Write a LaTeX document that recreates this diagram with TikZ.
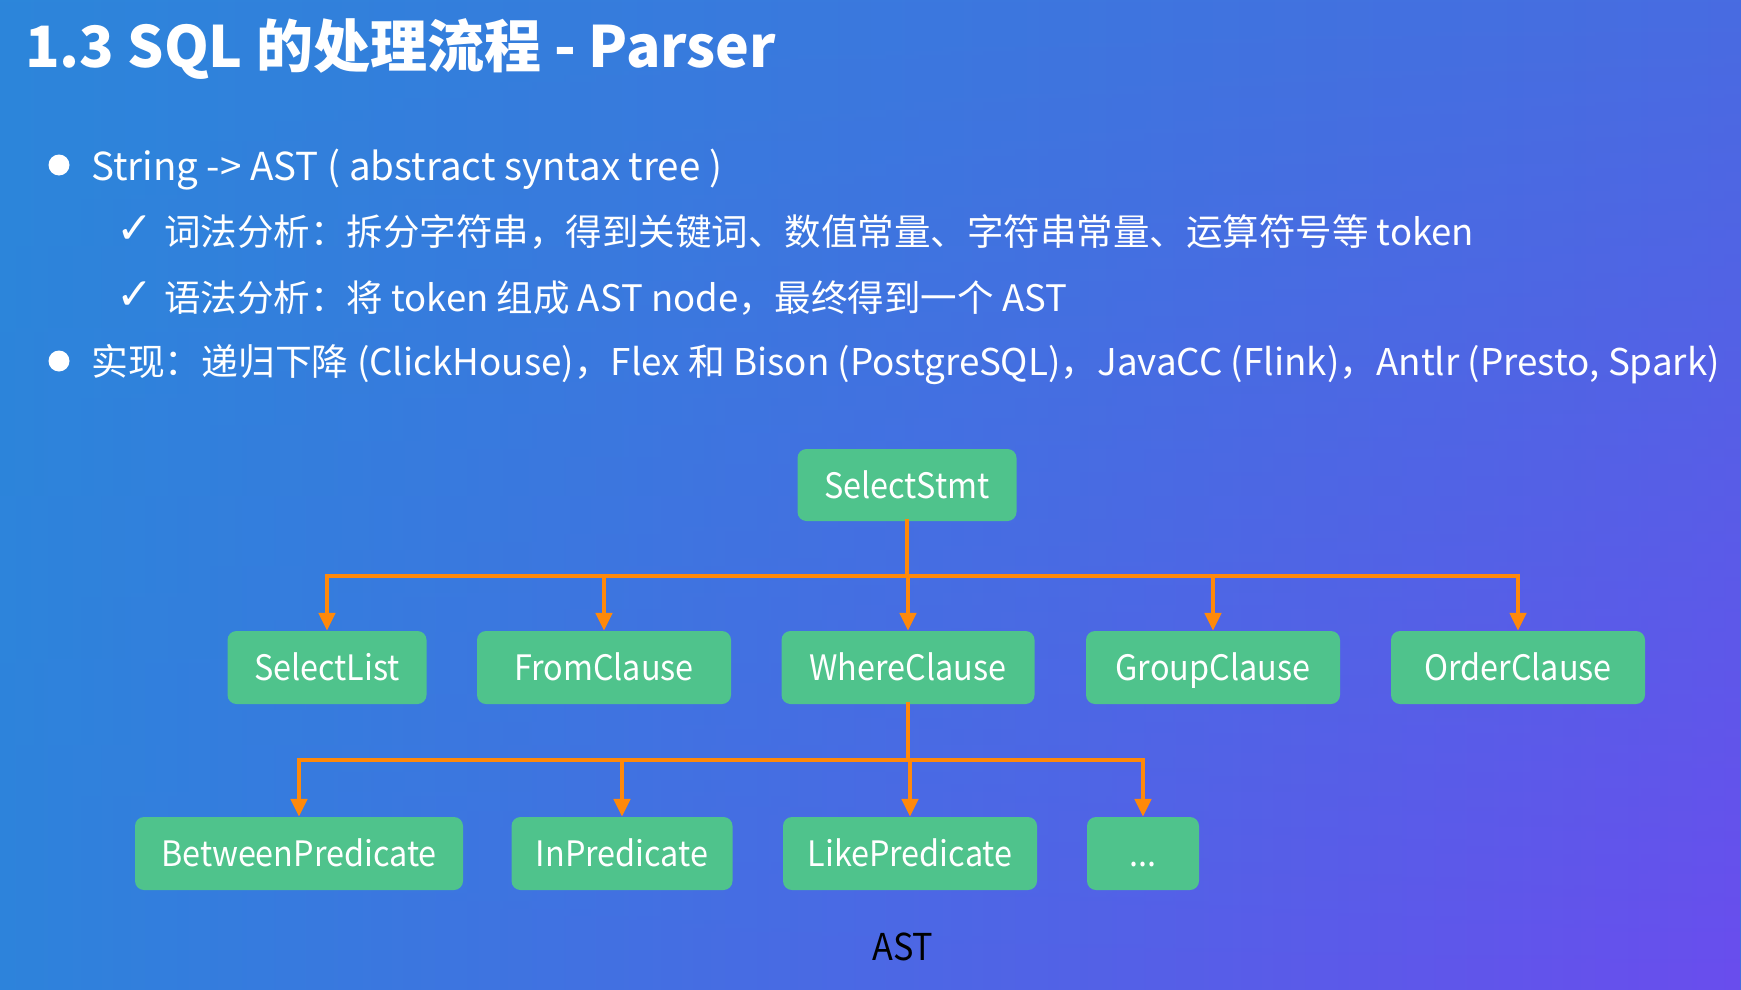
\documentclass[tikz,border=0pt]{standalone}
\usepackage{fontspec}
\setmainfont{Noto Sans CJK SC}
\newfontfamily\narrowfont[FakeStretch=0.925]{Noto Sans CJK SC}
\newfontfamily\symfont{DejaVu Sans}
\usetikzlibrary{arrows.meta,fadings}
\definecolor{bgTL}{RGB}{44,134,218}
\definecolor{bgTR}{RGB}{72,108,225}
\definecolor{bgBL}{RGB}{46,131,220}
\definecolor{bgBR}{RGB}{106,77,238}
\definecolor{nodegreen}{RGB}{79,195,140}
\definecolor{linkorange}{RGB}{255,137,10}
\tikzset{
  bodytext/.style={anchor=base west, inner sep=0pt, text=white, font=\fontsize{36.5}{40}\selectfont},
  checktext/.style={anchor=base west, inner sep=0pt, text=white, font=\symfont\fontsize{44}{48}\selectfont},
  treenode/.style={rounded corners=9pt, fill=nodegreen, text=white, inner sep=0pt,
    minimum height=73pt, text height=28pt, text depth=2pt, font=\narrowfont\fontsize{35}{40}\selectfont},
  bus/.style={draw=linkorange, line width=4.5pt, line cap=rect},
  arrowlink/.style={draw=linkorange, line width=4.5pt, -{Triangle[width=16pt,length=18pt]}},
}
\begin{document}
\begin{tikzpicture}[x=1pt,y=-1pt]
\useasboundingbox (0,0) rectangle (1741,990);
% background
\shade[left color=bgTL, right color=bgTR] (0,0) rectangle (1741,990);
\shade[left color=bgBL, right color=bgBR, path fading=north] (0,0) rectangle (1741,990);
% title
\node[anchor=base west, inner sep=0pt, text=white, font=\bfseries\fontsize{57}{62}\selectfont] (title) at (25,67) {1.3 SQL 的处理流程 - Parser};
% bullets
\fill[white] (59,165) circle (10.5);
\node[bodytext, font=\fontsize{38.5}{42}\selectfont] (l1) at (91,180) {String -> AST ( abstract syntax tree )};
\node[checktext] (c1) at (116,243) {✓};
\node[bodytext] (l2) at (164,245) {词法分析：拆分字符串，得到关键词、数值常量、字符串常量、运算符号等 token};
\node[checktext] (c2) at (116,309) {✓};
\node[bodytext] (l3) at (164,311) {语法分析：将 token 组成 AST node，最终得到一个 AST};
\fill[white] (59,361) circle (10.5);
\node[bodytext, font=\fontsize{36.8}{40}\selectfont] (l4) at (91,375) {实现：递归下降 (ClickHouse)，Flex 和 Bison (PostgreSQL)，JavaCC (Flink)，Antlr (Presto, Spark)};
% tree nodes
\node[treenode, minimum width=219pt, minimum height=72pt] (ss) at (907,485) {SelectStmt};
\node[treenode, minimum width=199pt] (sl) at (327,667.5) {SelectList};
\node[treenode, minimum width=254pt] (fc) at (604,667.5) {FromClause};
\node[treenode, minimum width=253pt] (wc) at (908,667.5) {WhereClause};
\node[treenode, minimum width=254pt] (gc) at (1213,667.5) {GroupClause};
\node[treenode, minimum width=254pt] (oc) at (1518,667.5) {OrderClause};
\node[treenode, minimum width=328pt] (bp) at (299,853.5) {BetweenPredicate};
\node[treenode, minimum width=221pt] (ip) at (622,853.5) {InPredicate};
\node[treenode, minimum width=254pt] (lp) at (910,853.5) {LikePredicate};
\node[treenode, minimum width=112pt] (dd) at (1143,853.5) {...};
\node[inner sep=0pt, text=black, font=\narrowfont\fontsize{37}{40}\selectfont] (ast) at (903,947) {AST};
% connectors level 1
\coordinate (b1) at (907,576);
\draw[bus] (ss.south) -- (b1);
\draw[bus] (b1 -| sl.north) -- (b1 -| oc.north);
\foreach \n in {sl,fc,wc,gc,oc} \draw[arrowlink] (b1 -| \n.north) -- (\n.north);
% connectors level 2
\coordinate (b2) at (909,760);
\draw[bus] (wc.south) -- (wc.south |- b2);
\draw[bus] (b2 -| bp.north) -- (b2 -| dd.north);
\foreach \n in {bp,ip,lp,dd} \draw[arrowlink] (b2 -| \n.north) -- (\n.north);
\end{tikzpicture}
\end{document}
